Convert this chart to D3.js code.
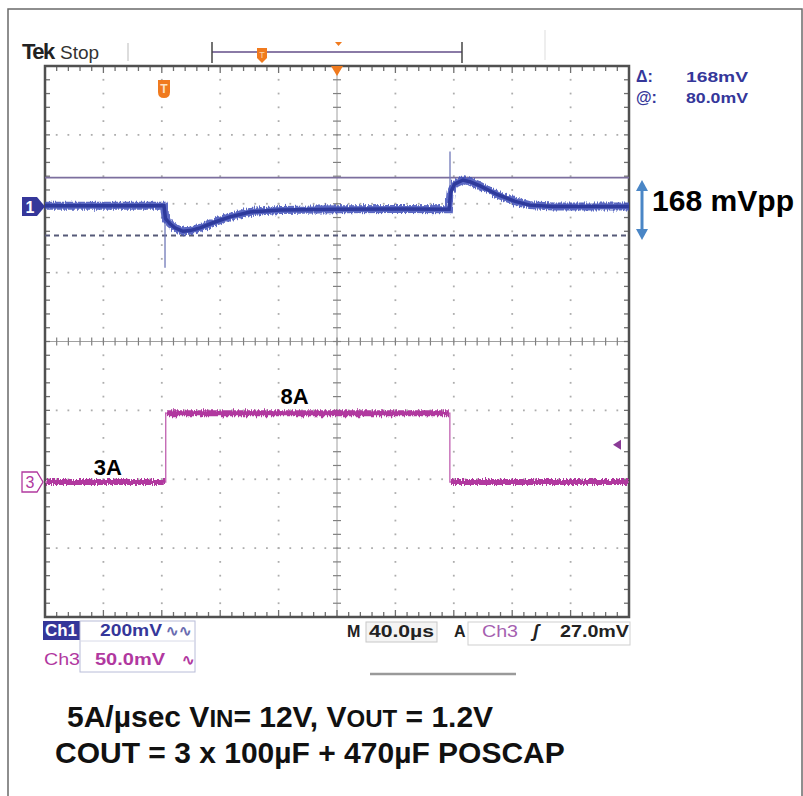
<!DOCTYPE html>
<html>
<head>
<meta charset="utf-8">
<script src="https://cdn.jsdelivr.net/npm/d3@7"></script>
<style>
  body { margin: 0; background: #fff; }
  svg { display: block; font-family: "Liberation Sans", Arial, sans-serif; }
</style>
</head>
<body>
<div id="chart"></div>
<script>
// time in us (40us/div, trigger at centre), ch1 in mV (200mV/div), ch3 in A
var ch1Time = [-200, -160, -118.5, -117.5, -114.4, -111, -105.5, -100.7, -93.8, -83.6, -73.3, -59.6, -39, 0, 43, 76.8,
               77.8, 80.5, 86.3, 91, 98, 109.6, 122, 132, 148, 200];
var ch1Volt = [2, 2, 2, -35, -50, -62, -72, -70, -62, -45, -30, -16, -10, -8, -7, -8,
               40, 65, 77, 72, 60, 35, 15, 4, 0, 0];
var ch1Spikes = [{t: -117.8, from: 0, to: -178}, {t: 77.4, from: -8, to: 160}];
var cursorVolts = [84, -84];

var ch3Start = [-200, -117.3, 77.3];
var ch3End = [-117.3, 77.3, 200];
var ch3Amps = [3, 8, 3];
var ampLabels = [{t: -157, a: 3, dy: -7, text: "3A"}, {t: -29, a: 8, dy: -9, text: "8A"}];

var ch1Offset = 1.96, ch3Offset = -2.04;   // divisions
var ch1Scale = 200, ch3Scale = 5;           // mV/div, A/div
var trigLevel = 27.0 / 50 * 5 + 3;          // trigger level in A

var W = 803, H = 796;
var svg = d3.select("#chart").append("svg").attr("width", W).attr("height", H);

var x = d3.scaleLinear().domain([-200, 200]).range([45, 629]);
var yDiv = d3.scaleLinear().domain([-4, 4]).range([617, 66]);
var y1 = function(v) { return yDiv(ch1Offset + v / ch1Scale); };
var y3 = function(a) { return yDiv(ch3Offset + (a - 3) / ch3Scale); };

var navy = "#35379a", magenta = "#b1389f", orange = "#f07a1e";

svg.append("rect").attr("x", 8).attr("y", 9).attr("width", 794).attr("height", 800)
  .attr("fill", "none").attr("stroke", "#6a6a6a").attr("stroke-width", 1.5);

// graticule
var g = svg.append("g");
var xDivs = d3.range(-200, 201, 40), yDivs = d3.range(-4, 5, 1);
var xMinor = d3.range(-200, 200.1, 8), yMinor = d3.range(-4, 4.01, 0.2);

xDivs.slice(1, -1).forEach(function(t) {
  if (t === 0) return;
  g.selectAll(null).data(yMinor).enter().append("rect")
    .attr("x", x(t) - 0.9).attr("y", function(d) { return yDiv(d) - 0.9; })
    .attr("width", 1.8).attr("height", 1.8).attr("fill", "#adadad");
});
yDivs.slice(1, -1).forEach(function(d) {
  if (d === 0) return;
  g.selectAll(null).data(xMinor).enter().append("rect")
    .attr("x", function(t) { return x(t) - 0.9; }).attr("y", yDiv(d) - 0.9)
    .attr("width", 1.8).attr("height", 1.8).attr("fill", "#adadad");
});

// centre cross with ticks
g.append("line").attr("x1", x(0)).attr("x2", x(0)).attr("y1", yDiv(4)).attr("y2", yDiv(-4))
  .attr("stroke", "#a0a0a0").attr("stroke-width", 1);
g.append("line").attr("x1", x(-200)).attr("x2", x(200)).attr("y1", yDiv(0)).attr("y2", yDiv(0))
  .attr("stroke", "#a0a0a0").attr("stroke-width", 1);
g.selectAll(null).data(yMinor).enter().append("line")
  .attr("x1", x(0) - 4).attr("x2", x(0) + 4)
  .attr("y1", function(d) { return yDiv(d); }).attr("y2", function(d) { return yDiv(d); })
  .attr("stroke", "#808080").attr("stroke-width", 1.2);
g.selectAll(null).data(xMinor).enter().append("line")
  .attr("y1", yDiv(0) - 4).attr("y2", yDiv(0) + 4)
  .attr("x1", function(t) { return x(t); }).attr("x2", function(t) { return x(t); })
  .attr("stroke", "#808080").attr("stroke-width", 1.2);

// border ticks
[yDiv(4), yDiv(-4)].forEach(function(yy, i) {
  var dir = i === 0 ? 1 : -1;
  g.selectAll(null).data(xMinor).enter().append("line")
    .attr("x1", function(t) { return x(t); }).attr("x2", function(t) { return x(t); })
    .attr("y1", yy).attr("y2", function(t) { return yy + dir * (t % 40 === 0 ? 7 : 5); })
    .attr("stroke", "#707070").attr("stroke-width", 1.3);
});
[x(-200), x(200)].forEach(function(xx, i) {
  var dir = i === 0 ? 1 : -1;
  g.selectAll(null).data(yMinor).enter().append("line")
    .attr("y1", function(d) { return yDiv(d); }).attr("y2", function(d) { return yDiv(d); })
    .attr("x1", xx).attr("x2", xx + dir * 5)
    .attr("stroke", "#707070").attr("stroke-width", 1.3);
});
g.append("rect").attr("x", x(-200)).attr("y", yDiv(4))
  .attr("width", x(200) - x(-200)).attr("height", yDiv(-4) - yDiv(4))
  .attr("fill", "none").attr("stroke", "#505050").attr("stroke-width", 2.5);

// cursors
svg.append("line").attr("x1", x(-200)).attr("x2", x(200))
  .attr("y1", y1(cursorVolts[0])).attr("y2", y1(cursorVolts[0]))
  .attr("stroke", "#7c6f9e").attr("stroke-width", 1.6);
svg.append("line").attr("x1", x(-200)).attr("x2", x(200))
  .attr("y1", y1(cursorVolts[1])).attr("y2", y1(cursorVolts[1]))
  .attr("stroke", "#565a78").attr("stroke-width", 2).attr("stroke-dasharray", "5,4");

// noise-ish look for the traces
var defs = svg.append("defs");
var f = defs.append("filter").attr("id", "fuzz").attr("filterUnits", "userSpaceOnUse")
  .attr("x", 0).attr("y", 0).attr("width", W).attr("height", H);
f.append("feTurbulence").attr("type", "fractalNoise").attr("baseFrequency", "0.9 0.08").attr("numOctaves", 1).attr("seed", 3).attr("result", "n");
f.append("feDisplacementMap").attr("in", "SourceGraphic").attr("in2", "n").attr("scale", 7)
  .attr("xChannelSelector", "R").attr("yChannelSelector", "G");

// ch3 trace
var ch3Pts = [];
ch3Amps.forEach(function(a, i) { ch3Pts.push([ch3Start[i], a]); ch3Pts.push([ch3End[i], a]); });
svg.append("path").datum(ch3Pts)
  .attr("d", d3.line().x(function(d) { return x(d[0]); }).y(function(d) { return y3(d[1]); }))
  .attr("fill", "none").attr("stroke", "#c060b0").attr("stroke-width", 1.3);
svg.selectAll(".seg3").data(ch3Amps).enter().append("line")
  .attr("x1", function(d, i) { return x(ch3Start[i]) + 1; }).attr("x2", function(d, i) { return x(ch3End[i]) - 1; })
  .attr("y1", function(d) { return y3(d); }).attr("y2", function(d) { return y3(d); })
  .attr("stroke", magenta).attr("stroke-width", 6).attr("filter", "url(#fuzz)");

// ch1 trace
svg.selectAll(".spike").data(ch1Spikes).enter().append("line")
  .attr("x1", function(d) { return x(d.t); }).attr("x2", function(d) { return x(d.t); })
  .attr("y1", function(d) { return y1(d.from); }).attr("y2", function(d) { return y1(d.to); })
  .attr("stroke", "#7078b8").attr("stroke-width", 1.3);
var line1 = d3.line().x(function(d, i) { return x(ch1Time[i]); }).y(function(d) { return y1(d); }).curve(d3.curveLinear);
svg.append("path").datum(ch1Volt).attr("d", line1)
  .attr("fill", "none").attr("stroke", "#4050b8").attr("stroke-width", 8).attr("stroke-opacity", 0.85)
  .attr("filter", "url(#fuzz)");
svg.append("path").datum(ch1Volt).attr("d", line1)
  .attr("fill", "none").attr("stroke", "#2e3a9c").attr("stroke-width", 3.5);

// channel markers
svg.append("path").attr("d", "M22,197 H37 L45," + y1(0) + " L37,216 H22 Z").attr("fill", navy);
svg.append("text").attr("x", 30).attr("y", y1(0) + 6).attr("text-anchor", "middle")
  .attr("fill", "#fff").attr("font-weight", "bold").attr("font-size", 16).text("1");
var m3 = y3(3);
svg.append("path").attr("d", "M22," + (m3 - 10) + " H37 L43," + m3 + " L37," + (m3 + 10) + " H22 Z")
  .attr("fill", "#fff").attr("stroke", magenta).attr("stroke-width", 1.3);
svg.append("text").attr("x", 30).attr("y", m3 + 6).attr("text-anchor", "middle")
  .attr("fill", magenta).attr("font-size", 16).text("3");

// trigger level arrow
svg.append("path").attr("d", "M613," + y3(trigLevel) + " l8,-5 v10 Z").attr("fill", "#8a3a96");

// amp labels
svg.selectAll(".amp").data(ampLabels).enter().append("text")
  .attr("x", function(d) { return x(d.t); }).attr("y", function(d) { return y3(d.a) + d.dy; })
  .attr("text-anchor", "middle").attr("font-weight", "bold").attr("font-size", 22).text(function(d) { return d.text; });

// top bar
svg.append("text").attr("x", 22).attr("y", 59).attr("font-weight", "bold").attr("font-size", 22)
  .attr("letter-spacing", -1.5).attr("fill", "#222").text("Tek");
svg.append("text").attr("x", 60).attr("y", 59).attr("font-size", 19).attr("fill", "#333").text("Stop");
svg.append("line").attr("x1", 128).attr("x2", 128).attr("y1", 43).attr("y2", 61).attr("stroke", "#bbb");
svg.append("line").attr("x1", 545).attr("x2", 545).attr("y1", 30).attr("y2", 60).attr("stroke", "#ddd");
svg.append("line").attr("x1", 212).attr("x2", 462).attr("y1", 52).attr("y2", 52).attr("stroke", "#8a7aa6").attr("stroke-width", 2);
[212, 462].forEach(function(xx) {
  svg.append("line").attr("x1", xx).attr("x2", xx).attr("y1", 42).attr("y2", 63).attr("stroke", "#444").attr("stroke-width", 1.5);
});
svg.append("path").attr("d", "M257,48 h10 v10 l-5,5 l-5,-5 Z").attr("fill", orange);
svg.append("text").attr("x", 262).attr("y", 58).attr("text-anchor", "middle").attr("font-size", 9).attr("fill", "#fbd3a8").text("T");
svg.append("path").attr("d", "M335,42 h7 l-3.5,4 Z").attr("fill", orange);
svg.append("path").attr("d", "M" + (x(0) - 6) + ",66 h12 l-6,10 Z").attr("fill", orange);
svg.append("path").attr("d", "M158,80 h12 v12 q0,6 -6,6 q-6,0 -6,-6 Z").attr("fill", orange);
svg.append("text").attr("x", 164).attr("y", 93).attr("text-anchor", "middle").attr("font-size", 12)
  .attr("font-weight", "bold").attr("fill", "#fde0c0").text("T");

// cursor readout
var ro = svg.append("g").attr("fill", navy).attr("font-weight", "bold").attr("font-size", 15);
ro.append("text").attr("x", 636).attr("y", 82).attr("font-size", 16).text("Δ:");
ro.append("text").attr("x", 686).attr("y", 82).attr("textLength", 62).attr("lengthAdjust", "spacingAndGlyphs").text("168mV");
ro.append("text").attr("x", 636).attr("y", 103).attr("font-size", 16).text("@:");
ro.append("text").attr("x", 686).attr("y", 103).attr("textLength", 62).attr("lengthAdjust", "spacingAndGlyphs").text("80.0mV");

// 168 mVpp annotation
var ax = 642;
svg.append("line").attr("x1", ax).attr("x2", ax).attr("y1", 188).attr("y2", 232).attr("stroke", "#4a86c6").attr("stroke-width", 3);
svg.append("path").attr("d", "M" + (ax - 6) + ",191 L" + ax + ",180 L" + (ax + 6) + ",191 Z").attr("fill", "#4a86c6");
svg.append("path").attr("d", "M" + (ax - 6) + ",229 L" + ax + ",240 L" + (ax + 6) + ",229 Z").attr("fill", "#4a86c6");
svg.append("text").attr("x", 652).attr("y", 211).attr("font-weight", "bold").attr("font-size", 30)
  .attr("textLength", 142).attr("lengthAdjust", "spacingAndGlyphs").text("168 mVpp");

// bottom readouts
var rb = svg.append("g").attr("font-weight", "bold").attr("font-size", 16);
function fit(sel, w) { return sel.attr("textLength", w).attr("lengthAdjust", "spacingAndGlyphs"); }
rb.append("rect").attr("x", 43).attr("y", 621).attr("width", 37).attr("height", 19).attr("fill", navy);
fit(rb.append("text").attr("x", 45).attr("y", 636).attr("fill", "#fff").text("Ch1"), 32);
rb.append("rect").attr("x", 80).attr("y", 621).attr("width", 115).attr("height", 51)
  .attr("fill", "none").attr("stroke", "#b8bcd8").attr("stroke-width", 1);
rb.append("line").attr("x1", 80).attr("x2", 195).attr("y1", 641).attr("y2", 641).attr("stroke", "#d8dae8");
fit(rb.append("text").attr("x", 100).attr("y", 636).attr("fill", navy).text("200mV"), 62);
rb.append("text").attr("x", 166).attr("y", 636).attr("fill", "#6a6cb0").attr("font-size", 15).text("∿∿");
fit(rb.append("text").attr("x", 44).attr("y", 665).attr("fill", magenta).attr("font-weight", "normal").text("Ch3"), 36);
fit(rb.append("text").attr("x", 95).attr("y", 665).attr("fill", magenta).text("50.0mV"), 70);
rb.append("text").attr("x", 182).attr("y", 665).attr("fill", magenta).attr("font-size", 15).text("∿");

rb.append("text").attr("x", 347).attr("y", 637).attr("fill", "#222").text("M");
rb.append("rect").attr("x", 366).attr("y", 622).attr("width", 71).attr("height", 20)
  .attr("fill", "#f4f4f4").attr("stroke", "#c8c8c8");
fit(rb.append("text").attr("x", 369).attr("y", 637).attr("fill", "#222").text("40.0µs"), 65);
rb.append("text").attr("x", 454).attr("y", 637).attr("fill", "#222").text("A");
rb.append("rect").attr("x", 468).attr("y", 622).attr("width", 162).attr("height", 23)
  .attr("fill", "none").attr("stroke", "#cfcfcf");
fit(rb.append("text").attr("x", 482).attr("y", 637).attr("fill", "#a560b0").attr("font-weight", "normal").text("Ch3"), 36);
rb.append("text").attr("x", 533).attr("y", 637).attr("fill", "#222").attr("font-style", "italic").attr("font-size", 18).text("ʃ");
fit(rb.append("text").attr("x", 560).attr("y", 637).attr("fill", "#222").text("27.0mV"), 69);
svg.append("line").attr("x1", 370).attr("x2", 516).attr("y1", 674).attr("y2", 674).attr("stroke", "#9a9a9a").attr("stroke-width", 2.5);

// caption
var cap = svg.append("g").attr("font-weight", "bold").attr("font-size", 30).attr("fill", "#111");
var l1 = cap.append("text").attr("x", 67).attr("y", 727);
l1.append("tspan").text("5A/µsec V");
l1.append("tspan").attr("font-size", 24).text("IN");
l1.append("tspan").text("= 12V, V");
l1.append("tspan").attr("font-size", 24).text("OUT");
l1.append("tspan").text(" = 1.2V");
cap.append("text").attr("x", 55).attr("y", 763).text("COUT = 3 x 100µF + 470µF POSCAP");
</script>
</body>
</html>
